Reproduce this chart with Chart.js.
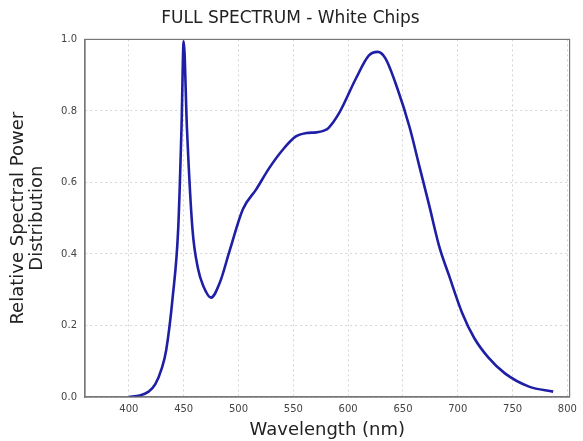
<!DOCTYPE html>
<html>
<head>
<meta charset="utf-8">
<script src="https://cdn.jsdelivr.net/npm/chart.js@4/dist/chart.umd.min.js"></script>
<style>
  html, body { margin: 0; padding: 0; background: #fff; }
  #wrap { width: 583px; height: 441px; }
</style>
</head>
<body>
<div id="wrap"><canvas id="spectrum"></canvas></div>
<script>
// wavelength (nm) and relative power
const wavelengths = [400, 410, 418, 424, 430, 434, 440, 445, 448, 450, 453, 458, 463, 468, 475, 483, 492, 504, 516, 528, 540, 552, 562, 571, 578, 582, 592, 607, 619, 627, 634, 645, 656, 665, 674, 683, 692, 704, 715, 728, 743, 765, 787];
const power = [0.0, 0.004, 0.015, 0.035, 0.08, 0.13, 0.28, 0.47, 0.75, 0.995, 0.75, 0.47, 0.36, 0.31, 0.278, 0.32, 0.41, 0.525, 0.58, 0.64, 0.69, 0.728, 0.738, 0.74, 0.745, 0.752, 0.795, 0.89, 0.955, 0.965, 0.947, 0.862, 0.755, 0.645, 0.535, 0.422, 0.34, 0.235, 0.165, 0.11, 0.066, 0.029, 0.015];
const xTicks = [400, 450, 500, 550, 600, 650, 700, 750, 800];
const yTicks = [0.0, 0.2, 0.4, 0.6, 0.8, 1.0];

const points = wavelengths.map((w, i) => ({ x: w, y: power[i] }));

const ctx = document.getElementById('spectrum');

new Chart(ctx, {
  type: 'line',
  data: {
    datasets: [{
      label: 'White Chips',
      data: points,
      borderColor: '#1f1fa6',
      borderWidth: 2.6,
      pointRadius: 0,
      fill: false,
      cubicInterpolationMode: 'monotone'
    }]
  },
  options: {
    responsive: true,
    maintainAspectRatio: false,
    animation: false,
    layout: { padding: { left: 9, right: 11, top: 0, bottom: 0 } },
    plugins: {
      legend: { display: false },
      tooltip: { enabled: false },
      title: {
        display: true,
        text: 'FULL SPECTRUM - White Chips',
        color: '#222',
        font: { family: 'DejaVu Sans', size: 17, weight: 'normal' },
        padding: { top: 8, bottom: 11 }
      }
    },
    scales: {
      x: {
        type: 'linear',
        min: 360,
        max: 802,
        afterBuildTicks: s => { s.ticks = xTicks.map(v => ({ value: v })); },
        afterFit: s => { s.height = 44; },
        ticks: { color: '#444', font: { family: 'DejaVu Sans', size: 10 }, padding: 6 },
        grid: { color: '#d4d4d4', drawTicks: false },
        border: { display: true, color: '#777', width: 1.2, dash: [2, 3] },
        title: {
          display: true,
          text: 'Wavelength (nm)',
          color: '#222',
          font: { family: 'DejaVu Sans', size: 18, weight: 'normal' },
          padding: { top: 0, bottom: 0 }
        }
      },
      y: {
        min: 0,
        max: 1,
        afterBuildTicks: s => { s.ticks = yTicks.map(v => ({ value: v })); },
        afterFit: s => { s.width = 76; },
        ticks: {
          color: '#444',
          font: { family: 'DejaVu Sans', size: 10 },
          padding: 8,
          callback: v => v.toFixed(1)
        },
        grid: { color: '#d4d4d4', drawTicks: false },
        border: { display: true, color: '#777', width: 1.2, dash: [2, 3] },
        title: {
          display: true,
          text: ['Relative Spectral Power', 'Distribution'],
          color: '#222',
          font: { family: 'DejaVu Sans', size: 18, weight: 'normal', lineHeight: 1.05 },
          padding: { top: 0, bottom: 4 }
        }
      }
    }
  },
  plugins: [{
    id: 'frame',
    afterDraw(chart) {
      const a = chart.chartArea, c = chart.ctx;
      c.save();
      c.strokeStyle = '#777';
      c.lineWidth = 1.2;
      c.setLineDash([]);
      c.strokeRect(a.left, a.top, a.right - a.left, a.bottom - a.top);
      c.restore();
    }
  }]
});
</script>
</body>
</html>
